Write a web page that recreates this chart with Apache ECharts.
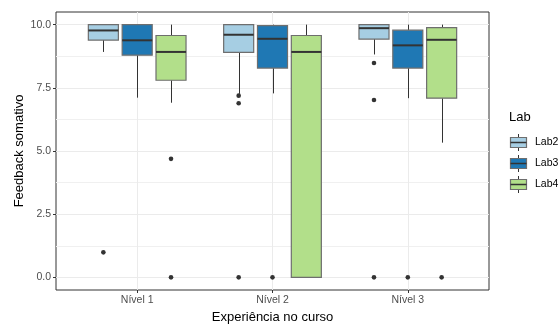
<!DOCTYPE html>
<html>
<head>
<meta charset="utf-8">
<script src="https://cdn.jsdelivr.net/npm/echarts@6/dist/echarts.min.js"></script>
<style>
  html, body { margin: 0; padding: 0; background: #fff; }
  #chart { width: 560px; height: 329px; }
</style>
</head>
<body>
<div id="chart"></div>
<script>
// Categories (course experience levels) and groups (labs)
var categories = ["Nível 1", "Nível 2", "Nível 3"];
var labs = ["Lab2", "Lab3", "Lab4"];
var labColors = ["#a6cee3", "#1f78b4", "#b2df8a"];

// Box statistics per level: [lower whisker, Q1, median, Q3, upper whisker]
var lab2Stats = [
  [8.92, 9.39, 9.77, 10.0, 10.0],
  [7.26, 8.90, 9.60, 10.0, 10.0],
  [8.82, 9.43, 9.86, 10.0, 10.0]
];
var lab3Stats = [
  [7.11, 8.79, 9.38, 10.0, 10.0],
  [7.28, 8.28, 9.44, 9.96, 10.0],
  [7.09, 8.28, 9.18, 9.78, 10.0]
];
var lab4Stats = [
  [6.91, 7.80, 8.92, 9.57, 10.0],
  [0.0, 0.0, 8.92, 9.57, 10.0],
  [5.33, 7.09, 9.40, 9.88, 10.0]
];

// Outliers per level: [level index, value]
var lab2Outliers = [[0, 0.99], [1, 7.19], [1, 6.89], [1, 0.0], [2, 8.48], [2, 7.02], [2, 0.0]];
var lab3Outliers = [[1, 0.0], [2, 0.0]];
var lab4Outliers = [[0, 4.69], [0, 0.0], [2, 0.0]];

// Y axis ticks
var yTicks = [0, 2.5, 5, 7.5, 10];
var yMinorTicks = [1.25, 3.75, 6.25, 8.75];

var statsByLab = [lab2Stats, lab3Stats, lab4Stats];
var outliersByLab = [lab2Outliers, lab3Outliers, lab4Outliers];

var DODGE = 0.25;     // center offset between neighbouring labs (category units)
var BOX_W = 0.222;    // box width (category units)
var FONT = "Liberation Sans, Arial, sans-serif";

function boxRenderer(labIdx) {
  var off = (labIdx - 1) * DODGE;
  return function (params, api) {
    var xc = api.value(0) + off;
    var lo = api.value(1), q1 = api.value(2), med = api.value(3), q3 = api.value(4), hi = api.value(5);
    var pLo = api.coord([xc, lo]);
    var pHi = api.coord([xc, hi]);
    var pQ1 = api.coord([xc, q1]);
    var pQ3 = api.coord([xc, q3]);
    var pMed = api.coord([xc, med]);
    var left = api.coord([xc - BOX_W / 2, med])[0];
    var right = api.coord([xc + BOX_W / 2, med])[0];
    var cx = Math.round(pMed[0]) + 0.5;
    return {
      type: "group",
      children: [
        { type: "line", shape: { x1: cx, y1: pHi[1], x2: cx, y2: pQ3[1] },
          style: { stroke: "#333", lineWidth: 1 } },
        { type: "line", shape: { x1: cx, y1: pQ1[1], x2: cx, y2: pLo[1] },
          style: { stroke: "#333", lineWidth: 1 } },
        { type: "rect", shape: { x: left, y: pQ3[1], width: right - left, height: pQ1[1] - pQ3[1] },
          style: { fill: labColors[labIdx], stroke: "#6e6e6e", lineWidth: 1.2 } },
        { type: "line", shape: { x1: left, y1: pMed[1], x2: right, y2: pMed[1] },
          style: { stroke: "#333", lineWidth: 2 } }
      ]
    };
  };
}

function outlierRenderer(labIdx) {
  var off = (labIdx - 1) * DODGE;
  return function (params, api) {
    var p = api.coord([api.value(0) + off, api.value(1)]);
    return { type: "circle", shape: { cx: p[0], cy: p[1], r: 2.3 }, style: { fill: "#333" } };
  };
}

var series = [];
labs.forEach(function (lab, i) {
  series.push({
    name: lab,
    type: "custom",
    renderItem: boxRenderer(i),
    encode: { x: 0, y: [1, 2, 3, 4, 5] },
    data: statsByLab[i].map(function (s, k) { return [k + 1].concat(s); }),
    z: 3
  });
  series.push({
    name: lab + " outliers",
    type: "custom",
    renderItem: outlierRenderer(i),
    encode: { x: 0, y: 1 },
    data: outliersByLab[i].map(function (o) { return [o[0] + 1, o[1]]; }),
    z: 4
  });
});

// Legend drawn as boxplot keys
var legendChildren = [
  { type: "text", left: 509, top: 111, style: { text: "Lab", font: "13px " + FONT, fill: "#000" } }
];
labs.forEach(function (lab, i) {
  var y0 = 134 + i * 21;
  legendChildren.push(
    { type: "line", shape: { x1: 518.5, y1: y0, x2: 518.5, y2: y0 + 17 }, style: { stroke: "#333", lineWidth: 1 } },
    { type: "rect", shape: { x: 510.5, y: y0 + 3.5, width: 16, height: 10 },
      style: { fill: labColors[i], stroke: "#6e6e6e", lineWidth: 1.2 } },
    { type: "line", shape: { x1: 510.5, y1: y0 + 8.5, x2: 526.5, y2: y0 + 8.5 }, style: { stroke: "#333", lineWidth: 1.5 } },
    { type: "text", left: 535, top: y0 + 3, style: { text: lab, font: "10.5px " + FONT, fill: "#000" } }
  );
});

var chart = echarts.init(document.getElementById("chart"), null, { renderer: "canvas" });
chart.setOption({
  animation: false,
  backgroundColor: "#fff",
  grid: { left: 56, right: 71, top: 12, bottom: 36, show: true, borderColor: "#333", borderWidth: 1, backgroundColor: "transparent" },
  xAxis: {
    type: "value", min: 0.4, max: 3.6,
    name: "Experiência no curso", nameLocation: "middle", nameGap: 21, nameMoveOverlap: false,
    nameTextStyle: { fontFamily: FONT, fontSize: 13, color: "#000" },
    axisLine: { show: false, onZero: false },
    axisTick: { show: true, length: 3, lineStyle: { color: "#333" }, customValues: [1, 2, 3] },
    axisLabel: { customValues: [1, 2, 3], margin: 5, fontFamily: FONT, fontSize: 10.5, color: "#4d4d4d",
      formatter: function (v) { return categories[Math.round(v) - 1]; } },
    splitLine: { show: true, lineStyle: { color: "#ebebeb", width: 1 } }
  },
  yAxis: [{
    type: "value", min: -0.5, max: 10.5,
    name: "Feedback somativo", nameLocation: "middle", nameGap: 30, nameMoveOverlap: false,
    nameTextStyle: { fontFamily: FONT, fontSize: 13, color: "#000" },
    axisLine: { show: false, onZero: false },
    axisTick: { show: true, length: 3, lineStyle: { color: "#333" }, customValues: yTicks },
    axisLabel: { customValues: yTicks, margin: 5, fontFamily: FONT, fontSize: 10.5, color: "#4d4d4d",
      formatter: function (v) { return v.toFixed(1); } },
    splitLine: { show: true, lineStyle: { color: "#ebebeb", width: 1 } }
  }, {
    type: "value", min: -0.5, max: 10.5, position: "left",
    axisLine: { show: false, onZero: false },
    axisTick: { show: false, customValues: yMinorTicks },
    axisLabel: { show: false, customValues: yMinorTicks },
    splitLine: { show: true, lineStyle: { color: "#f0f0f0", width: 1 } }
  }],
  series: series,
  graphic: legendChildren
});
</script>
</body>
</html>
